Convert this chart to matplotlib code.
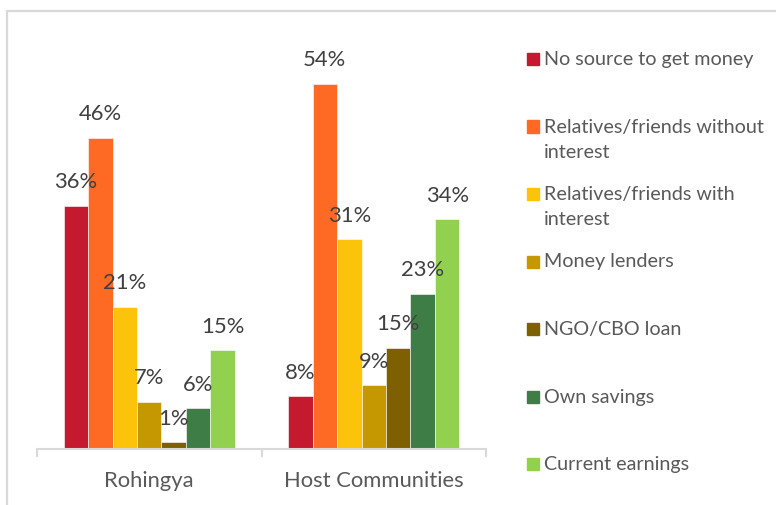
import numpy as np
import matplotlib.pyplot as plt
from matplotlib.patches import Rectangle

plt.rcParams['font.family'] = ['Lato', 'DejaVu Sans']

# %% data
groups = ['Rohingya', 'Host Communities']
sources = ['No source to get money', 'Relatives/friends without\ninterest',
           'Relatives/friends with\ninterest', 'Money lenders', 'NGO/CBO loan',
           'Own savings', 'Current earnings']
rohingya = [36, 46, 21, 7, 1, 6, 14.6]
host = [7.8, 54, 31, 9.4, 15, 23, 34]
colors = ['#C4192F', '#FE6A24', '#FCC30B', '#C59700', '#7F6000', '#3E7E46', '#92D050']

W, H = 776, 505
fig = plt.figure(figsize=(W / 100, H / 100), dpi=100)

# outer chart frame (cropped on right and bottom)
fig.patches.append(Rectangle((7 / W, -0.1), 1.0, 1.1 - 11 / H, transform=fig.transFigure,
                             fill=False, edgecolor='#d9d9d9', lw=1.6))

# %% axes, px -> figure fractions
ax = fig.add_axes([37 / W, (H - 449) / H, (486 - 37) / W, (449 - 43.4) / H])
ax.set_xlim(-0.5, 1.5)
ax.set_ylim(0, 60)

bw = 0.109
x = np.arange(len(groups))
vals = np.array([rohingya, host])
for i, (c, lab) in enumerate(zip(colors, sources)):
    xs = x + (i - 3) * bw
    bars = ax.bar(xs, vals[:, i], bw, color=c, edgecolor='white', lw=0.4)
    for b, v in zip(bars, vals[:, i]):
        ax.annotate(f'{v:.0f}%', (b.get_x() + b.get_width() / 2, v),
                    xytext=(0, 17), textcoords='offset points',
                    ha='center', va='center', fontsize=15.8, color='#404040')

for s in ['top', 'left', 'right']:
    ax.spines[s].set_visible(False)
ax.spines['bottom'].set_color('#d9d9d9')
ax.spines['bottom'].set_linewidth(1.5)
ax.set_yticks([])
ax.set_xticks(x)
ax.set_xticklabels(groups, fontsize=15.8, color='#595959')
ax.tick_params(axis='x', which='major', length=0, pad=16)
ax.set_xticks([-0.5, 0.5, 1.5], minor=True)
ax.tick_params(axis='x', which='minor', length=5.8, width=1.5, color='#d9d9d9')

# %% legend, entries evenly spaced like Excel
y0, dy = 59, 67.5
for i, (c, lab) in enumerate(zip(colors, sources)):
    yc = y0 + i * dy
    fig.patches.append(Rectangle((527 / W, (H - yc - 6) / H), 12 / W, 12 / H,
                                 transform=fig.transFigure, color=c))
    fig.text(544 / W, (H - yc + 8) / H, lab, ha='left', va='top', fontsize=14.2,
             color='#595959', linespacing=1.6)

fig.savefig('out.png', dpi=100)
